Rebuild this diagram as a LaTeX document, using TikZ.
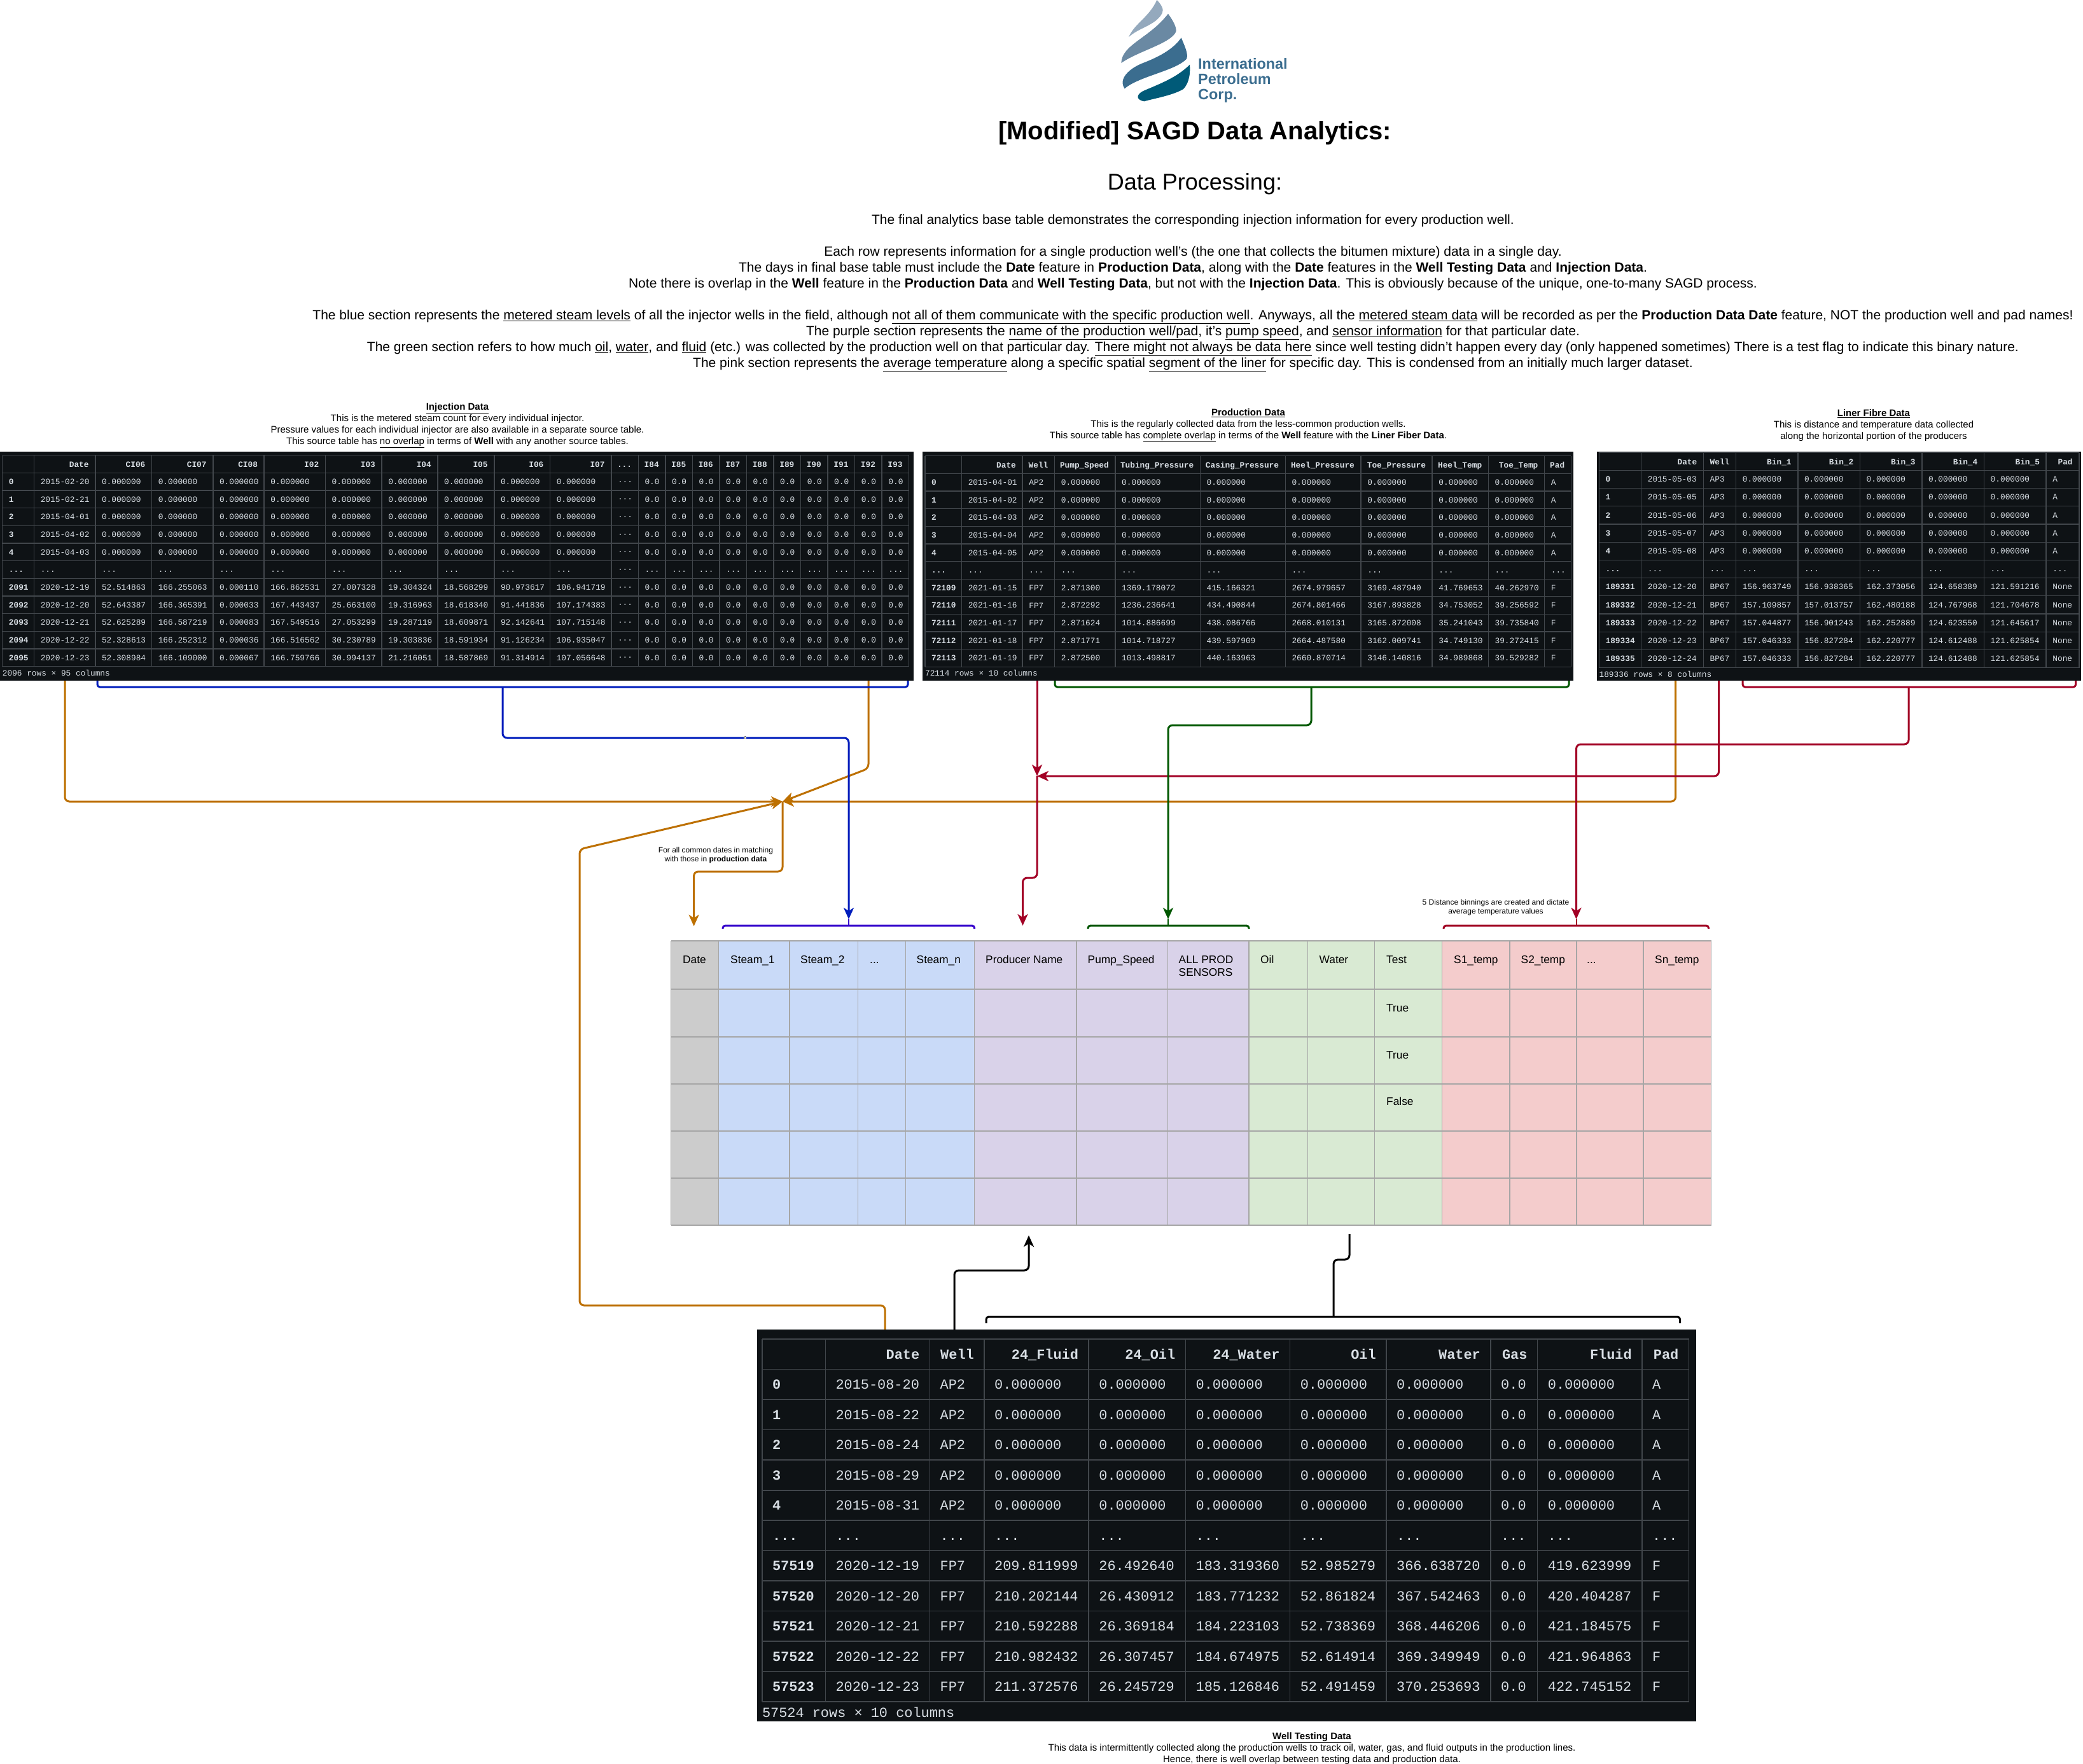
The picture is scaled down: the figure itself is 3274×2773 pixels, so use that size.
\documentclass[tikz,border=0pt]{standalone}
\usepackage{fontspec}
\setmainfont{Liberation Sans}
\setmonofont{Liberation Mono}
\usepackage{xcolor}
\usepackage{tikz}
\usetikzlibrary{arrows.meta}

\definecolor{tabbg}{HTML}{0E1215}
\definecolor{tabline}{HTML}{41464B}
\definecolor{tabtxt}{HTML}{D8DEE4}
\definecolor{datefill}{HTML}{CCCCCC}
\definecolor{steamfill}{HTML}{C9DAF8}
\definecolor{prodfill}{HTML}{D9D2E9}
\definecolor{testfill}{HTML}{D9EAD3}
\definecolor{binfill}{HTML}{F4CCCC}
\definecolor{cellline}{HTML}{A6A6A6}
\definecolor{dateline}{HTML}{BD7000}
\definecolor{steamline}{HTML}{001DBC}
\definecolor{steamcap}{HTML}{3700CC}
\definecolor{prodline}{HTML}{A20025}
\definecolor{testline}{HTML}{005700}
\definecolor{logotxt}{HTML}{3B6D8F}

\tikzset{
    darktab/.style={anchor=north west, fill=tabbg, inner sep=0pt},
    tabgrid/.style={color=tabline, line width=1.5pt},
    tabcell/.style={anchor=west, inner sep=0pt, align=left, text=tabtxt, font=\ttfamily\fontsize{12.8}{#1}\selectfont},
    tabidx/.style={anchor=west, inner sep=0pt, align=left, text=tabtxt, font=\ttfamily\bfseries\fontsize{12.8}{#1}\selectfont},
    tabhead/.style={anchor=base east, inner sep=0pt, text=tabtxt, font=\ttfamily\bfseries\fontsize{12.8}{15}\selectfont},
    tabfoot/.style={anchor=west, inner sep=0pt, text=tabtxt, font=\ttfamily\fontsize{12.8}{15}\selectfont},
    bigcell/.style={anchor=west, inner sep=0pt, align=left, text=tabtxt, font=\ttfamily\fontsize{21.9}{47.5}\selectfont},
    bigidx/.style={anchor=west, inner sep=0pt, align=left, text=tabtxt, font=\ttfamily\bfseries\fontsize{21.9}{47.5}\selectfont},
    bighead/.style={anchor=base east, inner sep=0pt, text=tabtxt, font=\ttfamily\bfseries\fontsize{21.9}{25}\selectfont},
    bigfoot/.style={anchor=west, inner sep=0pt, text=tabtxt, font=\ttfamily\fontsize{21.9}{25}\selectfont},
    capnote/.style={inner sep=0pt, align=center, font=\fontsize{15}{18}\selectfont},
    sidenote/.style={inner sep=0pt, align=center, font=\fontsize{12}{14}\selectfont},
    bodytxt/.style={inner sep=0pt, align=center, font=\fontsize{21}{25.1}\selectfont},
    colblock/.style={anchor=north west, inner sep=0pt, minimum height=447pt},
    coltxt/.style={anchor=base west, inner sep=0pt, align=left, font=\fontsize{17.3}{20}\selectfont},
    link/.style={line width=3pt, rounded corners=7pt},
    capbar/.style={line width=3pt, rounded corners=4pt},
    tip/.style={-{Stealth[length=18pt,width=16pt,inset=5pt]}},
}

\newcommand{\zeros}{0.000000\\0.000000\\0.000000\\0.000000\\0.000000\\...}
\newcommand{\zerocol}{0.0\\0.0\\0.0\\0.0\\0.0\\...\\0.0\\0.0\\0.0\\0.0\\0.0}
\newcommand{\dotcol}{...\\...\\...\\...\\...\\...\\...\\...\\...\\...\\...}

\begin{document}
\begin{tikzpicture}[x=1pt, y=-1pt]
    \useasboundingbox (0, 0) rectangle (3274, 2773);

    % logo
    \begin{scope}[shift={(1700pt, 0pt)}, x=0.3333pt, y=-0.3333pt]
        \fill[color={rgb,255:red,148;green,169;blue,189}] (222, 175) .. controls (250, 110) and (320, 80) .. (355, 0) .. controls (375, 20) and (390, 45) .. (380, 62) .. controls (350, 120) and (270, 130) .. (222, 175);
        \fill[color={rgb,255:red,106;green,137;blue,163}] (187, 297) .. controls (190, 210) and (320, 180) .. (408, 65) .. controls (430, 95) and (450, 130) .. (445, 150) .. controls (420, 205) and (270, 240) .. (187, 297);
        \fill[color=logotxt] (203, 418) .. controls (170, 370) and (230, 320) .. (290, 297) .. controls (360, 270) and (430, 235) .. (470, 178) .. controls (485, 215) and (505, 255) .. (495, 278) .. controls (440, 335) and (270, 360) .. (203, 418);
        \fill[color={rgb,255:red,0;green,90;blue,120}] (295, 478) .. controls (250, 470) and (260, 440) .. (300, 425) .. controls (370, 395) and (450, 365) .. (510, 305) .. controls (515, 360) and (500, 400) .. (480, 420) .. controls (430, 450) and (340, 465) .. (295, 478);
    \end{scope}
    \node[anchor=west, inner sep=0pt, align=left, text=logotxt, font=\bfseries\fontsize{23.4}{24}\selectfont] (logoname) at (1883, 126) {International\\Petroleum\\Corp.};

    % heading and notes
    \node[inner sep=0pt, font=\bfseries\fontsize{40}{46}\selectfont] (title) at (1878, 209) {[Modified] SAGD Data Analytics:};
    \node[inner sep=0pt, font=\fontsize{36}{42}\selectfont] (subtitle) at (1878, 289) {Data Processing:};
    \node[bodytxt] (intro) at (1875, 347) {The final analytics base table demonstrates the corresponding injection information for every production well.};
    \node[bodytxt] (rownote) at (1875, 422) {Each row represents information for a single production well's (the one that collects the bitumen mixture) data in a single day.\\
        The days in final base table must include the \textbf{Date} feature in \textbf{Production Data}, along with the \textbf{Date} features in the \textbf{Well Testing Data} and \textbf{Injection Data}.\\
        Note there is overlap in the \textbf{Well} feature in the \textbf{Production Data} and \textbf{Well Testing Data}, but not with the \textbf{Injection Data}. This is obviously because of the unique, one-to-many SAGD process.};
    \node[bodytxt] (colornote) at (1875, 535.5) {The blue section represents the \underline{metered steam levels} of all the injector wells in the field, although \underline{not all of them communicate with the specific production well}. Anyways, all the \underline{metered steam data} will be recorded as per the \textbf{Production Data Date} feature, NOT the production well and pad names!\\
        The purple section represents the \underline{name of the production well/pad}, it's \underline{pump speed}, and \underline{sensor information} for that particular date.\\
        The green section refers to how much \underline{oil}, \underline{water}, and \underline{fluid} (etc.) was collected by the production well on that particular day. \underline{There might not always be data here} since well testing didn't happen every day (only happened sometimes) There is a test flag to indicate this binary nature.\\
        The pink section represents the \underline{average temperature} along a specific spatial \underline{segment of the liner} for specific day. This is condensed from an initially much larger dataset.};

    % captions
    \node[capnote] (injcap) at (719, 669) {\underline{\textbf{Injection Data}}\\This is the metered steam count for every individual injector.\\Pressure values for each individual injector are also available in a separate source table.\\This source table has \underline{no overlap} in terms of \textbf{Well} with any another source tables.};
    \node[capnote] (prodcap) at (1962, 669) {\underline{\textbf{Production Data}}\\This is the regularly collected data from the less-common production wells.\\This source table has \underline{complete overlap} in terms of the \textbf{Well} feature with the \textbf{Liner Fiber Data}.};
    \node[capnote] (linercap) at (2945, 669) {\underline{\textbf{Liner Fibre Data}}\\This is distance and temperature data collected\\along the horizontal portion of the producers};
    \node[capnote] (testcap) at (2062, 2749) {\underline{\textbf{Well Testing Data}}\\This data is intermittently collected along the production wells to track oil, water, gas, and fluid outputs in the production lines.\\Hence, there is well overlap between testing data and production data.};

    % injection table
    \node[darktab, minimum width=1436pt, minimum height=360pt] (inj) at (0, 710) {};
    \draw[tabgrid] (3.7, 715.7) -- +(1425, 0) (3.7, 743.3) -- +(1425, 0) (3.7, 771) -- +(1425, 0) (3.7, 798.7) -- +(1425, 0) (3.7, 826.3) -- +(1425, 0) (3.7, 854) -- +(1425, 0) (3.7, 881.7) -- +(1425, 0) (3.7, 909.3) -- +(1425, 0) (3.7, 937) -- +(1425, 0) (3.7, 964.7) -- +(1425, 0) (3.7, 992.3) -- +(1425, 0) (3.7, 1020) -- +(1425, 0) (3.7, 1047.7) -- +(1425, 0);
    \draw[tabgrid] (3.7, 715.7) -- +(0, 332) (53.6, 715.7) -- +(0, 332) (149.8, 715.7) -- +(0, 332) (238.6, 715.7) -- +(0, 332) (334.8, 715.7) -- +(0, 332) (415.2, 715.7) -- +(0, 332) (511.4, 715.7) -- +(0, 332) (600.1, 715.7) -- +(0, 332) (688, 715.7) -- +(0, 332) (776.8, 715.7) -- +(0, 332) (864.6, 715.7) -- +(0, 332) (960.8, 715.7) -- +(0, 332) (1003.3, 715.7) -- +(0, 332) (1045.9, 715.7) -- +(0, 332) (1088.4, 715.7) -- +(0, 332) (1131, 715.7) -- +(0, 332) (1173.5, 715.7) -- +(0, 332) (1216, 715.7) -- +(0, 332) (1258.6, 715.7) -- +(0, 332) (1301, 715.7) -- +(0, 332) (1343.7, 715.7) -- +(0, 332) (1386.2, 715.7) -- +(0, 332) (1428.7, 715.7) -- +(0, 332);
    \node[tabhead] (injhdate) at (139.8, 734) {Date};
    \node[tabhead] (injhci06) at (228.6, 734) {CI06};
    \node[tabhead] (injhci07) at (324.8, 734) {CI07};
    \node[tabhead] (injhci08) at (405.2, 734) {CI08};
    \node[tabhead] (injhi02) at (501.4, 734) {I02};
    \node[tabhead] (injhi03) at (590.1, 734) {I03};
    \node[tabhead] (injhi04) at (678, 734) {I04};
    \node[tabhead] (injhi05) at (766.8, 734) {I05};
    \node[tabhead] (injhi06) at (854.6, 734) {I06};
    \node[tabhead] (injhi07) at (950.8, 734) {I07};
    \node[tabhead] (injhdots) at (993.3, 734) {...};
    \node[tabhead] (injhi84) at (1035.9, 734) {I84};
    \node[tabhead] (injhi85) at (1078.4, 734) {I85};
    \node[tabhead] (injhi86) at (1121, 734) {I86};
    \node[tabhead] (injhi87) at (1163.5, 734) {I87};
    \node[tabhead] (injhi88) at (1206, 734) {I88};
    \node[tabhead] (injhi89) at (1248.6, 734) {I89};
    \node[tabhead] (injhi90) at (1291, 734) {I90};
    \node[tabhead] (injhi91) at (1333.7, 734) {I91};
    \node[tabhead] (injhi92) at (1376.2, 734) {I92};
    \node[tabhead] (injhi93) at (1418.7, 734) {I93};
    \node[tabidx=27.67] (injidx) at (13.7, 895.5) {0\\1\\2\\3\\4\\...\\2091\\2092\\2093\\2094\\2095};
    \node[tabcell=27.67] (injdate) at (63.6, 895.5) {2015-02-20\\2015-02-21\\2015-04-01\\2015-04-02\\2015-04-03\\...\\2020-12-19\\2020-12-20\\2020-12-21\\2020-12-22\\2020-12-23};
    \node[tabcell=27.67] (injci06) at (159.8, 895.5) {\zeros\\52.514863\\52.643387\\52.625289\\52.328613\\52.308984};
    \node[tabcell=27.67] (injci07) at (248.6, 895.5) {\zeros\\166.255063\\166.365391\\166.587219\\166.252312\\166.109000};
    \node[tabcell=27.67] (injci08) at (344.8, 895.5) {\zeros\\0.000110\\0.000033\\0.000083\\0.000036\\0.000067};
    \node[tabcell=27.67] (inji02) at (425.2, 895.5) {\zeros\\166.862531\\167.443437\\167.549516\\166.516562\\166.759766};
    \node[tabcell=27.67] (inji03) at (521.4, 895.5) {\zeros\\27.007328\\25.663100\\27.053299\\30.230789\\30.994137};
    \node[tabcell=27.67] (inji04) at (610.1, 895.5) {\zeros\\19.304324\\19.316963\\19.287119\\19.303836\\21.216051};
    \node[tabcell=27.67] (inji05) at (698, 895.5) {\zeros\\18.568299\\18.618340\\18.609871\\18.591934\\18.587869};
    \node[tabcell=27.67] (inji06) at (786.8, 895.5) {\zeros\\90.973617\\91.441836\\92.142641\\91.126234\\91.314914};
    \node[tabcell=27.67] (inji07) at (874.6, 895.5) {\zeros\\106.941719\\107.174383\\107.715148\\106.935047\\107.056648};
    \node[tabcell=27.67] (injdots) at (970.8, 895.5) {\dotcol};
    \node[tabcell=27.67] (inji84) at (1013.3, 895.5) {\zerocol};
    \node[tabcell=27.67] (inji85) at (1055.9, 895.5) {\zerocol};
    \node[tabcell=27.67] (inji86) at (1098.4, 895.5) {\zerocol};
    \node[tabcell=27.67] (inji87) at (1141, 895.5) {\zerocol};
    \node[tabcell=27.67] (inji88) at (1183.5, 895.5) {\zerocol};
    \node[tabcell=27.67] (inji89) at (1226, 895.5) {\zerocol};
    \node[tabcell=27.67] (inji90) at (1268.6, 895.5) {\zerocol};
    \node[tabcell=27.67] (inji91) at (1311, 895.5) {\zerocol};
    \node[tabcell=27.67] (inji92) at (1353.7, 895.5) {\zerocol};
    \node[tabcell=27.67] (inji93) at (1396.2, 895.5) {\zerocol};
    \node[tabfoot] (injfoot) at (3.7, 1057.7) {2096 rows × 95 columns};

    % production table
    \node[darktab, minimum width=1023pt, minimum height=360pt] (prod) at (1450, 710) {};
    \draw[tabgrid] (1453.9, 716.7) -- +(1015.5, 0) (1453.9, 744.3) -- +(1015.5, 0) (1453.9, 772) -- +(1015.5, 0) (1453.9, 799.7) -- +(1015.5, 0) (1453.9, 827.3) -- +(1015.5, 0) (1453.9, 855) -- +(1015.5, 0) (1453.9, 882.7) -- +(1015.5, 0) (1453.9, 910.3) -- +(1015.5, 0) (1453.9, 937.7) -- +(1015.5, 0) (1453.9, 965.3) -- +(1015.5, 0) (1453.9, 993) -- +(1015.5, 0) (1453.9, 1020.7) -- +(1015.5, 0) (1453.9, 1048.3) -- +(1015.5, 0);
    \draw[tabgrid] (1453.9, 716.7) -- +(0, 331.6) (1511.6, 716.7) -- +(0, 331.6) (1607.1, 716.7) -- +(0, 331.6) (1657.6, 716.7) -- +(0, 331.6) (1753, 716.7) -- +(0, 331.6) (1886.4, 716.7) -- +(0, 331.6) (2020.3, 716.7) -- +(0, 331.6) (2139.1, 716.7) -- +(0, 331.6) (2251.2, 716.7) -- +(0, 331.6) (2339.4, 716.7) -- +(0, 331.6) (2427.6, 716.7) -- +(0, 331.6) (2469.4, 716.7) -- +(0, 331.6);
    \node[tabhead] (prodhdate) at (1597.1, 735) {Date};
    \node[tabhead] (prodhwell) at (1647.6, 735) {Well};
    \node[tabhead] (prodhpump) at (1743, 735) {Pump\_Speed};
    \node[tabhead] (prodhtubing) at (1876.4, 735) {Tubing\_Pressure};
    \node[tabhead] (prodhcasing) at (2010.3, 735) {Casing\_Pressure};
    \node[tabhead] (prodhheelp) at (2129.1, 735) {Heel\_Pressure};
    \node[tabhead] (prodhtoep) at (2241.2, 735) {Toe\_Pressure};
    \node[tabhead] (prodhheelt) at (2329.4, 735) {Heel\_Temp};
    \node[tabhead] (prodhtoet) at (2417.6, 735) {Toe\_Temp};
    \node[tabhead] (prodhpad) at (2459.4, 735) {Pad};
    \node[tabidx=27.63] (prodidx) at (1463.9, 896.5) {0\\1\\2\\3\\4\\...\\72109\\72110\\72111\\72112\\72113};
    \node[tabcell=27.63] (proddate) at (1521.6, 896.5) {2015-04-01\\2015-04-02\\2015-04-03\\2015-04-04\\2015-04-05\\...\\2021-01-15\\2021-01-16\\2021-01-17\\2021-01-18\\2021-01-19};
    \node[tabcell=27.63] (prodwell) at (1617.1, 896.5) {AP2\\AP2\\AP2\\AP2\\AP2\\...\\FP7\\FP7\\FP7\\FP7\\FP7};
    \node[tabcell=27.63] (prodpump) at (1667.6, 896.5) {\zeros\\2.871300\\2.872292\\2.871624\\2.871771\\2.872500};
    \node[tabcell=27.63] (prodtubing) at (1763, 896.5) {\zeros\\1369.178072\\1236.236641\\1014.886699\\1014.718727\\1013.498817};
    \node[tabcell=27.63] (prodcasing) at (1896.4, 896.5) {\zeros\\415.166321\\434.490844\\438.086766\\439.597909\\440.163963};
    \node[tabcell=27.63] (prodheelp) at (2030.3, 896.5) {\zeros\\2674.979657\\2674.801466\\2668.010131\\2664.487580\\2660.870714};
    \node[tabcell=27.63] (prodtoep) at (2149.1, 896.5) {\zeros\\3169.487940\\3167.893828\\3165.872008\\3162.009741\\3146.140816};
    \node[tabcell=27.63] (prodheelt) at (2261.2, 896.5) {\zeros\\41.769653\\34.753052\\35.241043\\34.749130\\34.989868};
    \node[tabcell=27.63] (prodtoet) at (2349.4, 896.5) {\zeros\\40.262970\\39.256592\\39.735840\\39.272415\\39.529282};
    \node[tabcell=27.63] (prodpad) at (2437.6, 896.5) {A\\A\\A\\A\\A\\...\\F\\F\\F\\F\\F};
    \node[tabfoot] (prodfoot) at (1453.9, 1057.7) {72114 rows × 10 columns};

    % liner table
    \node[darktab, minimum width=761pt, minimum height=360pt] (liner) at (2510, 710) {};
    \draw[tabgrid] (2513.4, 711.7) -- +(754.4, 0) (2513.4, 739.3) -- +(754.4, 0) (2513.4, 767.7) -- +(754.4, 0) (2513.4, 795.7) -- +(754.4, 0) (2513.4, 824) -- +(754.4, 0) (2513.4, 852.3) -- +(754.4, 0) (2513.4, 880.3) -- +(754.4, 0) (2513.4, 908.7) -- +(754.4, 0) (2513.4, 936.7) -- +(754.4, 0) (2513.4, 965) -- +(754.4, 0) (2513.4, 993.3) -- +(754.4, 0) (2513.4, 1021.3) -- +(754.4, 0) (2513.4, 1049.7) -- +(754.4, 0);
    \draw[tabgrid] (2513.4, 711.7) -- +(0, 338) (2579.7, 711.7) -- +(0, 338) (2677.5, 711.7) -- +(0, 338) (2728.6, 711.7) -- +(0, 338) (2825.8, 711.7) -- +(0, 338) (2923.5, 711.7) -- +(0, 338) (3020.8, 711.7) -- +(0, 338) (3118.5, 711.7) -- +(0, 338) (3216.2, 711.7) -- +(0, 338) (3267.8, 711.7) -- +(0, 338);
    \node[tabhead] (linerhdate) at (2667.5, 730) {Date};
    \node[tabhead] (linerhwell) at (2718.6, 730) {Well};
    \node[tabhead] (linerhbina) at (2815.8, 730) {Bin\_1};
    \node[tabhead] (linerhbinb) at (2913.5, 730) {Bin\_2};
    \node[tabhead] (linerhbinc) at (3010.8, 730) {Bin\_3};
    \node[tabhead] (linerhbind) at (3108.5, 730) {Bin\_4};
    \node[tabhead] (linerhbine) at (3206.2, 730) {Bin\_5};
    \node[tabhead] (linerhpad) at (3257.8, 730) {Pad};
    \node[tabidx=28.2] (lineridx) at (2523.4, 894.5) {0\\1\\2\\3\\4\\...\\189331\\189332\\189333\\189334\\189335};
    \node[tabcell=28.2] (linerdate) at (2589.7, 894.5) {2015-05-03\\2015-05-05\\2015-05-06\\2015-05-07\\2015-05-08\\...\\2020-12-20\\2020-12-21\\2020-12-22\\2020-12-23\\2020-12-24};
    \node[tabcell=28.2] (linerwell) at (2687.5, 894.5) {AP3\\AP3\\AP3\\AP3\\AP3\\...\\BP67\\BP67\\BP67\\BP67\\BP67};
    \node[tabcell=28.2] (linerbina) at (2738.6, 894.5) {\zeros\\156.963749\\157.109857\\157.044877\\157.046333\\157.046333};
    \node[tabcell=28.2] (linerbinb) at (2835.8, 894.5) {\zeros\\156.938365\\157.013757\\156.901243\\156.827284\\156.827284};
    \node[tabcell=28.2] (linerbinc) at (2933.5, 894.5) {\zeros\\162.373056\\162.480188\\162.252889\\162.220777\\162.220777};
    \node[tabcell=28.2] (linerbind) at (3030.8, 894.5) {\zeros\\124.658389\\124.767968\\124.623550\\124.612488\\124.612488};
    \node[tabcell=28.2] (linerbine) at (3128.5, 894.5) {\zeros\\121.591216\\121.704678\\121.645617\\121.625854\\121.625854};
    \node[tabcell=28.2] (linerpad) at (3226.2, 894.5) {A\\A\\A\\A\\A\\...\\None\\None\\None\\None\\None};
    \node[tabfoot] (linerfoot) at (2513.4, 1059.7) {189336 rows × 8 columns};

    % well testing table
    \node[darktab, minimum width=1476pt, minimum height=616pt] (wtest) at (1190, 2090) {};
    \draw[tabgrid] (1197.8, 2104.9) -- +(1456.7, 0) (1197.8, 2152.4) -- +(1456.7, 0) (1197.8, 2199.8) -- +(1456.7, 0) (1197.8, 2247.3) -- +(1456.7, 0) (1197.8, 2294.8) -- +(1456.7, 0) (1197.8, 2342.8) -- +(1456.7, 0) (1197.8, 2390.2) -- +(1456.7, 0) (1197.8, 2437.7) -- +(1456.7, 0) (1197.8, 2485.2) -- +(1456.7, 0) (1197.8, 2532.7) -- +(1456.7, 0) (1197.8, 2580.2) -- +(1456.7, 0) (1197.8, 2627.7) -- +(1456.7, 0) (1197.8, 2675.2) -- +(1456.7, 0);
    \draw[tabgrid] (1197.8, 2104.9) -- +(0, 570.3) (1297.3, 2104.9) -- +(0, 570.3) (1461.4, 2104.9) -- +(0, 570.3) (1547, 2104.9) -- +(0, 570.3) (1711.2, 2104.9) -- +(0, 570.3) (1863.4, 2104.9) -- +(0, 570.3) (2027.6, 2104.9) -- +(0, 570.3) (2178.9, 2104.9) -- +(0, 570.3) (2343, 2104.9) -- +(0, 570.3) (2416.7, 2104.9) -- +(0, 570.3) (2580.9, 2104.9) -- +(0, 570.3) (2654.5, 2104.9) -- +(0, 570.3);
    \node[bighead] (wthdate) at (1445.4, 2136.5) {Date};
    \node[bighead] (wthwell) at (1531, 2136.5) {Well};
    \node[bighead] (wthfluida) at (1695.2, 2136.5) {24\_Fluid};
    \node[bighead] (wthoila) at (1847.4, 2136.5) {24\_Oil};
    \node[bighead] (wthwatera) at (2011.6, 2136.5) {24\_Water};
    \node[bighead] (wthoil) at (2162.9, 2136.5) {Oil};
    \node[bighead] (wthwater) at (2327, 2136.5) {Water};
    \node[bighead] (wthgas) at (2400.7, 2136.5) {Gas};
    \node[bighead] (wthfluid) at (2564.9, 2136.5) {Fluid};
    \node[bighead] (wthpad) at (2638.5, 2136.5) {Pad};
    \node[bigidx] (wtidx) at (1213.8, 2414) {0\\1\\2\\3\\4\\...\\57519\\57520\\57521\\57522\\57523};
    \node[bigcell] (wtdate) at (1313.3, 2414) {2015-08-20\\2015-08-22\\2015-08-24\\2015-08-29\\2015-08-31\\...\\2020-12-19\\2020-12-20\\2020-12-21\\2020-12-22\\2020-12-23};
    \node[bigcell] (wtwell) at (1477.4, 2414) {AP2\\AP2\\AP2\\AP2\\AP2\\...\\FP7\\FP7\\FP7\\FP7\\FP7};
    \node[bigcell] (wtfluida) at (1563, 2414) {\zeros\\209.811999\\210.202144\\210.592288\\210.982432\\211.372576};
    \node[bigcell] (wtoila) at (1727.2, 2414) {\zeros\\26.492640\\26.430912\\26.369184\\26.307457\\26.245729};
    \node[bigcell] (wtwatera) at (1879.4, 2414) {\zeros\\183.319360\\183.771232\\184.223103\\184.674975\\185.126846};
    \node[bigcell] (wtoil) at (2043.6, 2414) {\zeros\\52.985279\\52.861824\\52.738369\\52.614914\\52.491459};
    \node[bigcell] (wtwater) at (2194.9, 2414) {\zeros\\366.638720\\367.542463\\368.446206\\369.349949\\370.253693};
    \node[bigcell] (wtgas) at (2359, 2414) {\zerocol};
    \node[bigcell] (wtfluid) at (2432.7, 2414) {\zeros\\419.623999\\420.404287\\421.184575\\421.964863\\422.745152};
    \node[bigcell] (wtpad) at (2596.9, 2414) {A\\A\\A\\A\\A\\...\\F\\F\\F\\F\\F};
    \node[bigfoot] (wtfoot) at (1197.8, 2691.8) {57524 rows × 10 columns};

    % final table
    \node[colblock, fill=datefill, minimum width=74.8pt] (date) at (1054.7, 1479) {};
    \node[colblock, fill=steamfill, minimum width=402.2pt] (steam) at (1129.5, 1479) {};
    \node[colblock, fill=prodfill, minimum width=431.5pt] (producer) at (1531.7, 1479) {};
    \node[colblock, fill=testfill, minimum width=303.5pt] (oilwater) at (1963.2, 1479) {};
    \node[colblock, fill=binfill, minimum width=423pt] (bins) at (2266.7, 1479) {};
    \draw[color=cellline, line width=2pt] (1054.7, 1479) -- +(1634.8, 0) (1054.7, 1555) -- +(1634.8, 0) (1054.7, 1630) -- +(1634.8, 0) (1054.7, 1703.6) -- +(1634.8, 0) (1054.7, 1777.5) -- +(1634.8, 0) (1054.7, 1852) -- +(1634.8, 0) (1054.7, 1926) -- +(1634.8, 0);
    \draw[color=cellline, line width=1.5pt] (1054.7, 1479) -- +(0, 447) (1129.5, 1479) -- +(0, 447) (1241.2, 1479) -- +(0, 447) (1348.5, 1479) -- +(0, 447) (1423.3, 1479) -- +(0, 447) (1531.7, 1479) -- +(0, 447) (1692.2, 1479) -- +(0, 447) (1835.3, 1479) -- +(0, 447) (1963.2, 1479) -- +(0, 447) (2055.3, 1479) -- +(0, 447) (2160.5, 1479) -- +(0, 447) (2266.7, 1479) -- +(0, 447) (2373, 1479) -- +(0, 447) (2478, 1479) -- +(0, 447) (2583, 1479) -- +(0, 447) (2689.5, 1479) -- +(0, 447);
    \node[coltxt] (hdate) at (1073, 1514) {Date};
    \node[coltxt] (hsteama) at (1148, 1514) {Steam\_1};
    \node[coltxt] (hsteamb) at (1258, 1514) {Steam\_2};
    \node[coltxt] (hsteamdots) at (1367, 1514) {...};
    \node[coltxt] (hsteamn) at (1440.5, 1514) {Steam\_n};
    \node[coltxt] (hproducer) at (1549, 1514) {Producer Name};
    \node[coltxt] (hpump) at (1709.5, 1514) {Pump\_Speed};
    \node[coltxt] (hsensors) at (1852.5, 1534) {ALL PROD\\SENSORS};
    \node[coltxt] (hoil) at (1981, 1514) {Oil};
    \node[coltxt] (hwater) at (2073.5, 1514) {Water};
    \node[coltxt] (htest) at (2179, 1514) {Test};
    \node[coltxt] (hbina) at (2285, 1514) {S1\_temp};
    \node[coltxt] (hbinb) at (2390.5, 1514) {S2\_temp};
    \node[coltxt] (hbindots) at (2494, 1514) {...};
    \node[coltxt] (hbinn) at (2601, 1514) {Sn\_temp};
    \node[coltxt] (testa) at (2179, 1590) {True};
    \node[coltxt] (testb) at (2179, 1664) {True};
    \node[coltxt] (testc) at (2179, 1737) {False};

    \node[sidenote] (datenote) at (1125, 1344) {For all common dates in matching\\with those in \textbf{production data}};
    \node[sidenote] (binnote) at (2351, 1426) {5 Distance binnings are created and dictate\\average temperature values};

    % points the connectors run through
    \coordinate (hub) at (1230, 1260);
    \coordinate (injleft) at (102, 1070);
    \coordinate (injright) at (1365, 1070);
    \coordinate (linerdateout) at (2633.6, 1070);
    \coordinate (wtdateout) at (1391, 2090);
    \coordinate (datein) at (1090.6, 1456);
    \coordinate (injbarl) at (153, 1070);
    \coordinate (injbarr) at (1427, 1070);
    \coordinate (injbarm) at (790, 1080);
    \coordinate (steamtip) at (1334, 1445);
    \coordinate (steambarl) at (1136, 1460);
    \coordinate (steambarr) at (1531.7, 1460);
    \coordinate (prodwellout) at (1630, 1070);
    \coordinate (wellhub) at (1630, 1220);
    \coordinate (linerwellout) at (2701.5, 1070);
    \coordinate (producerin) at (1607.5, 1455);
    \coordinate (prodbarl) at (1658, 1070);
    \coordinate (prodbarr) at (2466, 1070);
    \coordinate (prodbarm) at (2061, 1080);
    \coordinate (pumptip) at (1836, 1445);
    \coordinate (pumpbarl) at (1710, 1460);
    \coordinate (pumpbarr) at (1963, 1460);
    \coordinate (linerbarl) at (2739, 1070);
    \coordinate (linerbarr) at (3262.6, 1070);
    \coordinate (linerbarm) at (3000, 1080);
    \coordinate (bintip) at (2477.5, 1445);
    \coordinate (binbarl) at (2269, 1460);
    \coordinate (binbarr) at (2685.6, 1460);
    \coordinate (wtwellout) at (1500, 2090);
    \coordinate (wellback) at (1617, 1942);
    \coordinate (oilout) at (2121, 1940);
    \coordinate (wtbarl) at (1550, 2080);
    \coordinate (wtbarr) at (2640.6, 2080);
    \coordinate (wtbarm) at (2096, 2070);

    % date links
    \draw[link, tip, color=dateline] (injleft) |- (hub);
    \draw[link, tip, color=dateline] (injright) -- (1365, 1208) -- (hub);
    \draw[link, tip, color=dateline] (linerdateout) |- (hub);
    \draw[link, tip, color=dateline] (wtdateout) -- (1391, 2052) -- (911, 2052) -- (911, 1335) -- (hub);
    \draw[link, tip, color=dateline] (hub) -- (1230, 1370) -- (1090.6, 1370) -- (datein);

    % injection to steam columns
    \draw[capbar, color=steamline] (injbarl) -- ++(0, 10) -| (injbarr);
    \draw[link, tip, color=steamline] (injbarm) -- (790, 1160) -| (steamtip);
    \node[inner sep=0.5pt, fill=white, font=\fontsize{7}{8}\selectfont] (steamtag) at (1171, 1160) {z};
    \draw[capbar, color=steamcap] (steambarl) -- ++(0, -5) -| (steambarr);
    \draw[color=steamcap, line width=2pt] (steamtip) -- (1334, 1455);

    % well names
    \draw[link, tip, color=prodline] (prodwellout) -- (wellhub);
    \draw[link, tip, color=prodline] (linerwellout) |- (wellhub);
    \draw[link, tip, color=prodline] (wellhub) -- (1630, 1380) -- (1607.5, 1380) -- (producerin);

    % production to test columns
    \draw[capbar, color=testline] (prodbarl) -- ++(0, 10) -| (prodbarr);
    \draw[link, tip, color=testline] (prodbarm) -- (2061, 1140) -| (pumptip);
    \draw[capbar, color=testline] (pumpbarl) -- ++(0, -5) -| (pumpbarr);
    \draw[color=testline, line width=2pt] (pumptip) -- (1836, 1455);

    % liner to bin columns
    \draw[capbar, color=prodline] (linerbarl) -- ++(0, 10) -| (linerbarr);
    \draw[link, tip, color=prodline] (linerbarm) -- (3000, 1170) -| (bintip);
    \draw[capbar, color=prodline] (binbarl) -- ++(0, -5) -| (binbarr);
    \draw[color=prodline, line width=2pt] (bintip) -- (2477.5, 1455);

    % well testing
    \draw[link, tip] (wtwellout) -- (1500, 1997) -| (wellback);
    \draw[link] (oilout) -- (2121, 1980) -- (2096, 1980) -- (wtbarm);
    \draw[capbar] (wtbarl) -- ++(0, -10) -| (wtbarr);
\end{tikzpicture}
\end{document}
